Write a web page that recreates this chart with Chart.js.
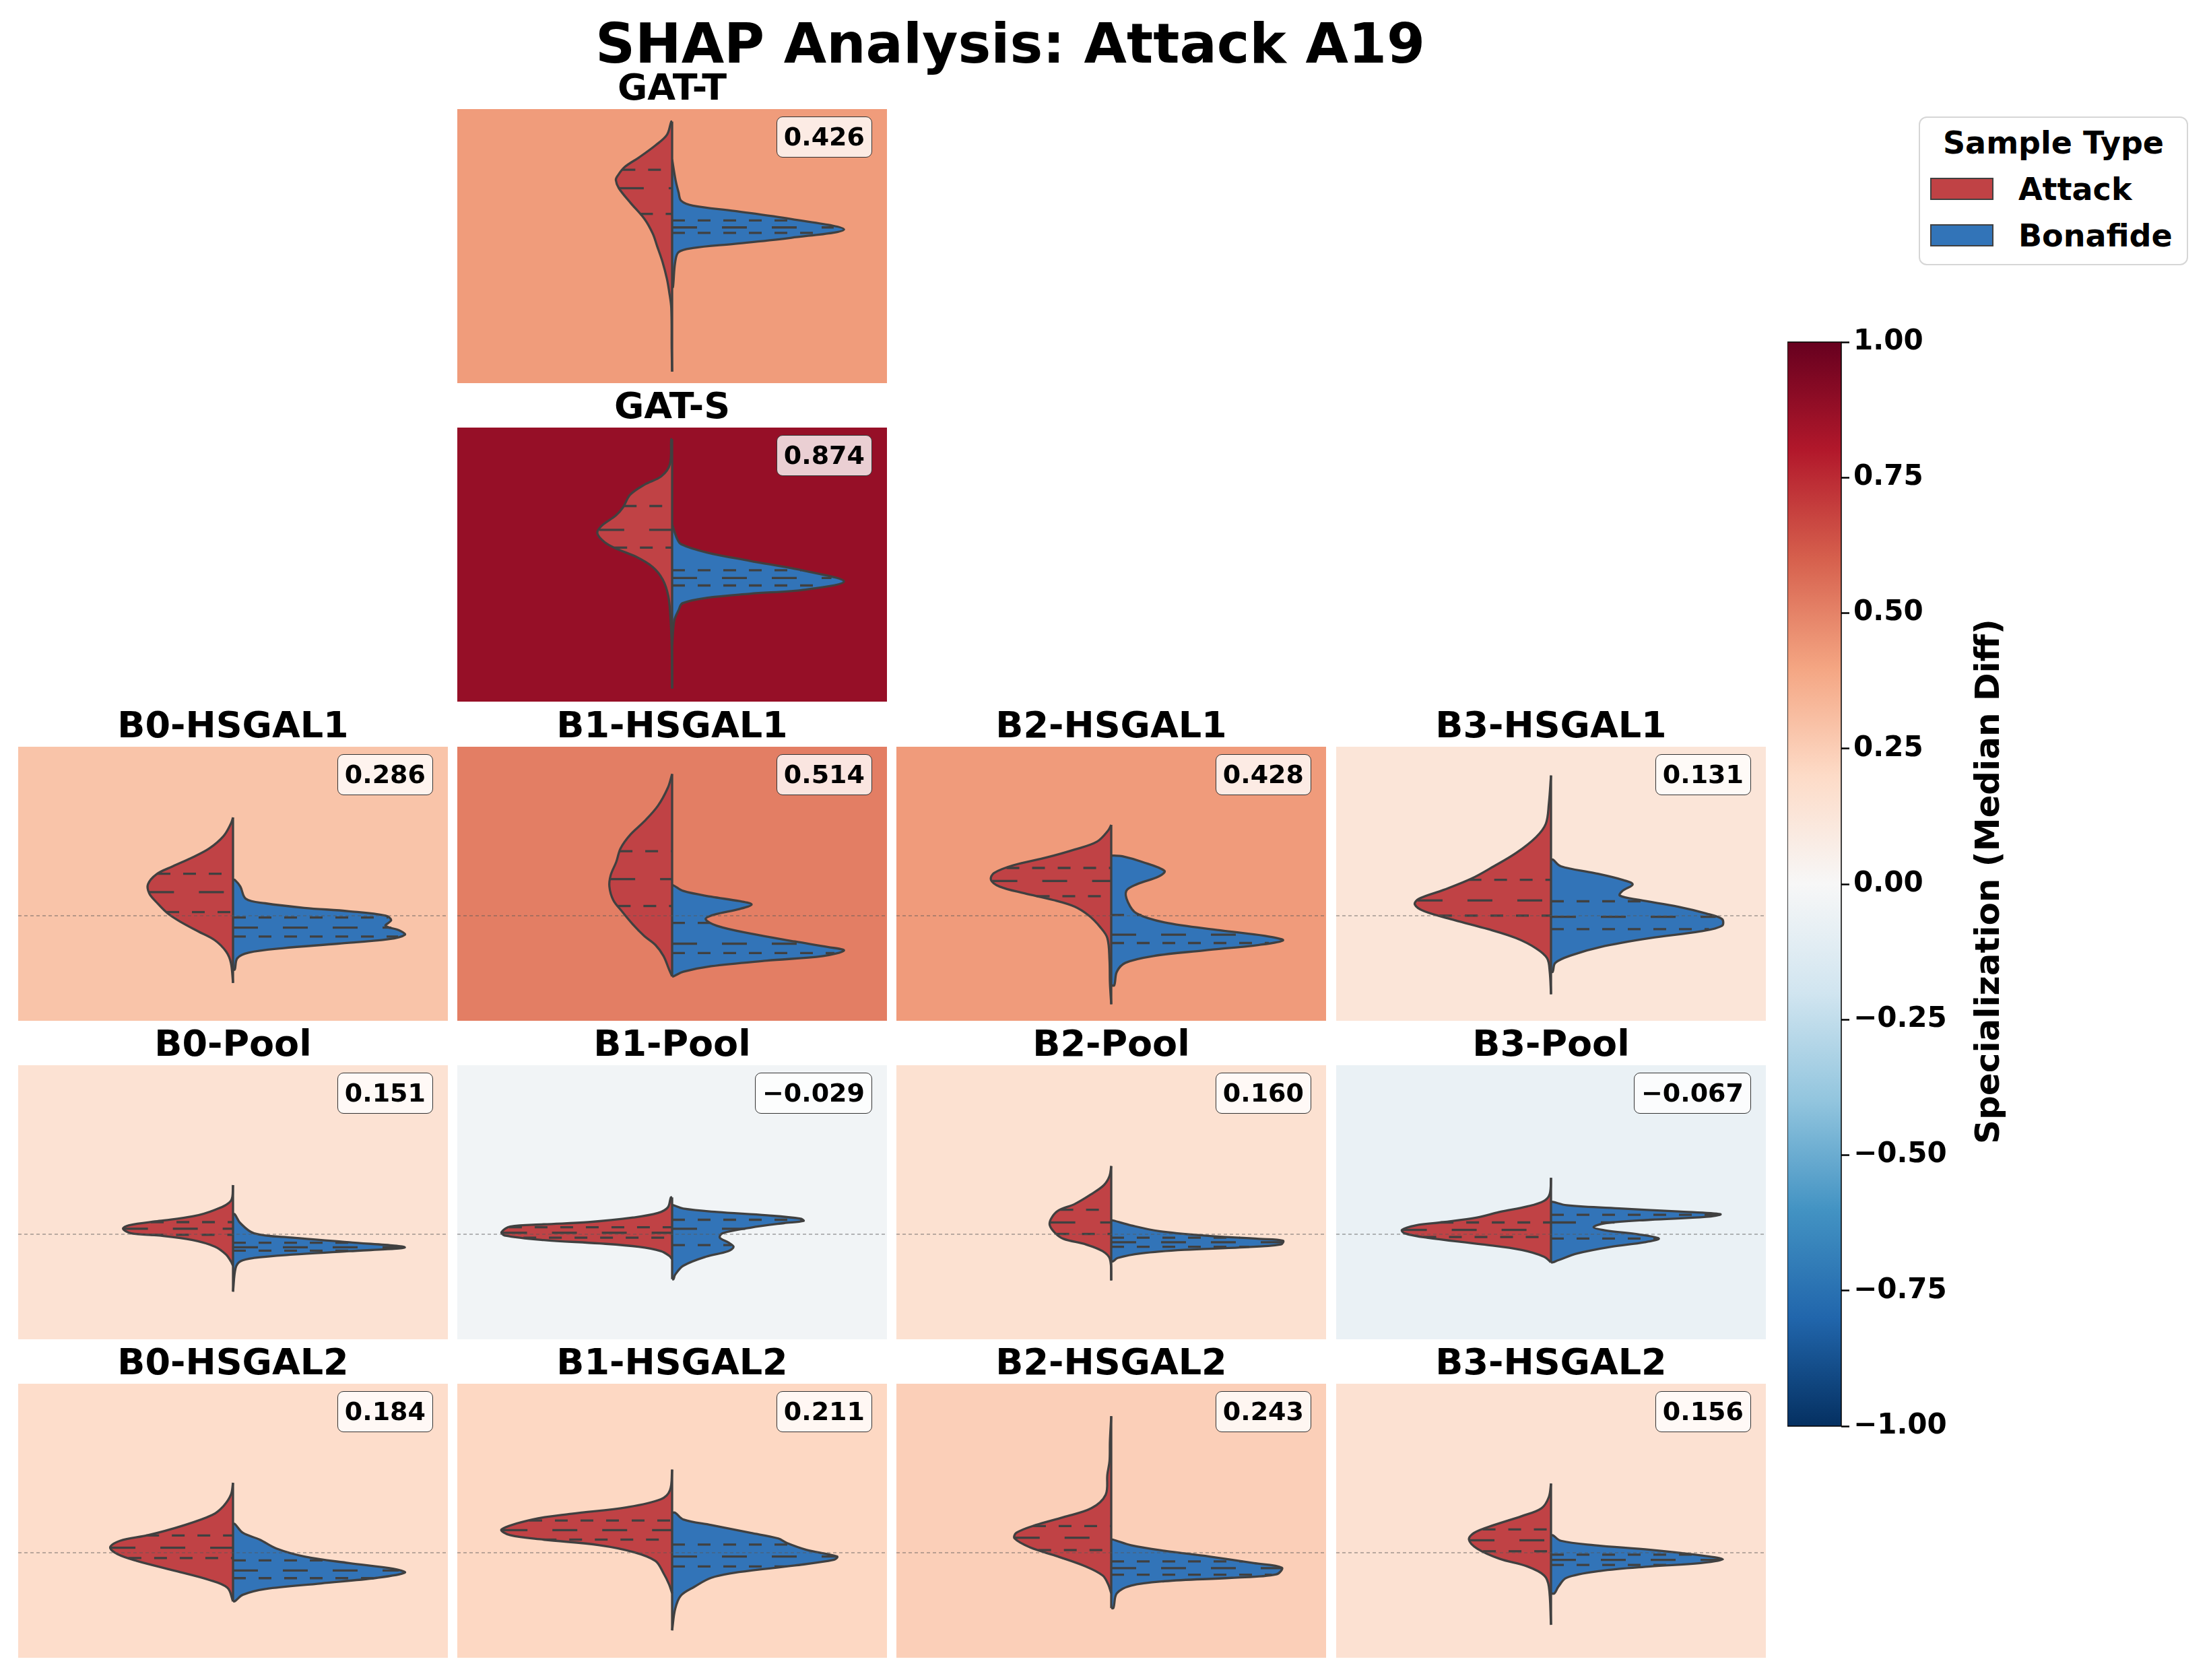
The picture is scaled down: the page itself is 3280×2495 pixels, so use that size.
<!DOCTYPE html>
<html>
<head>
<meta charset="utf-8">
<title>SHAP Analysis: Attack A19</title>
<script src="https://cdn.jsdelivr.net/npm/chart.js@4.4.1/dist/chart.umd.min.js"></script>
<style>
  body { margin: 0; background: #fff; }
  #page { position: relative; width: 3280px; height: 2495px; overflow: hidden;
          font-family: 'DejaVu Sans', sans-serif; font-weight: bold; color: #000; }
  #page canvas { position: absolute; }
  .txt { position: absolute; white-space: nowrap; line-height: 1; }
  .vbox { position: absolute; font-size: 38px; line-height: 1; padding: 10px 10px 11px 10px;
          border: 1.5px solid #333; border-radius: 9px; background: rgba(255,255,255,0.8); white-space: nowrap; }
</style>
</head>
<body>
<div id="page">
  <div class="txt" style="left:0;width:3000px;top:24px;font-size:82px;text-align:center;">SHAP Analysis: Attack A19</div>
</div>
<script>
// ---- data ----
const seriesNames = ['Attack', 'Bonafide'];
const seriesColors = ['#c04245', '#3274b8'];

const panelNames = ['GAT-T', 'GAT-S',
  'B0-HSGAL1', 'B1-HSGAL1', 'B2-HSGAL1', 'B3-HSGAL1',
  'B0-Pool', 'B1-Pool', 'B2-Pool', 'B3-Pool',
  'B0-HSGAL2', 'B1-HSGAL2', 'B2-HSGAL2', 'B3-HSGAL2'];
const specValues = [0.426, 0.874, 0.286, 0.514, 0.428, 0.131, 0.151, -0.029, 0.160, -0.067, 0.184, 0.211, 0.243, 0.156];
const cbarTicks = [-1, -0.75, -0.5, -0.25, 0, 0.25, 0.5, 0.75, 1];

// violin halves: [shap value, half width]; quartiles: [q1, median, q3]
const gatT_atk = [[0.926,0.002],[0.848,0.012],[0.787,0.038],[0.714,0.077],[0.658,0.110],[0.605,0.127],[0.580,0.131],[0.532,0.124],[0.446,0.097],[0.349,0.064],[0.263,0.045],[0.190,0.035],[0.093,0.022],[-0.005,0.012],[-0.078,0.007],[-0.175,0.002],[-0.419,0.001],[-0.553,0]];
const gatT_atkQ = [0.380, 0.532, 0.641];
const gatT_bon = [[0.702,0],[0.580,0.008],[0.507,0.015],[0.458,0.021],[0.429,0.048],[0.397,0.146],[0.349,0.278],[0.288,0.400],[0.239,0.278],[0.203,0.146],[0.178,0.048],[0.154,0.015],[0.093,0.007],[-0.053,0.002]];
const gatT_bonQ = [0.268, 0.300, 0.341];

const gatS_atk = [[0.931,0.002],[0.785,0.005],[0.712,0.025],[0.663,0.064],[0.602,0.098],[0.529,0.114],[0.480,0.131],[0.419,0.164],[0.375,0.174],[0.322,0.157],[0.285,0.131],[0.236,0.084],[0.175,0.045],[0.102,0.022],[0.005,0.009],[-0.117,0.004],[-0.287,0.001],[-0.543,0]];
const gatS_atkQ = [0.290, 0.395, 0.536];
const gatS_bon = [[0.419,0.001],[0.346,0.011],[0.310,0.021],[0.261,0.081],[0.212,0.180],[0.151,0.311],[0.090,0.400],[0.042,0.311],[0.017,0.180],[-0.007,0.080],[-0.039,0.024],[-0.080,0.015],[-0.141,0.005],[-0.287,0]];
const gatS_bonQ = [0.066, 0.110, 0.156];

const b0h1_atk = [[0.582,0],[0.545,0.005],[0.472,0.022],[0.399,0.055],[0.346,0.094],[0.293,0.140],[0.246,0.178],[0.186,0.198],[0.133,0.195],[0.080,0.178],[0.014,0.152],[-0.039,0.120],[-0.092,0.081],[-0.145,0.042],[-0.212,0.016],[-0.278,0.005],[-0.397,0]];
const b0h1_atkQ = [0.022, 0.140, 0.249];
const b0h1_bon = [[0.213,0.004],[0.173,0.017],[0.100,0.030],[0.074,0.075],[0.047,0.166],[0.027,0.270],[0.001,0.355],[-0.026,0.368],[-0.059,0.355],[-0.086,0.387],[-0.112,0.400],[-0.139,0.361],[-0.165,0.244],[-0.192,0.114],[-0.218,0.036],[-0.251,0.010],[-0.318,0.004]];
const b0h1_bonQ = [-0.123, -0.070, -0.010];

const b1h1_atk = [[0.839,0],[0.757,0.010],[0.651,0.033],[0.558,0.065],[0.478,0.098],[0.399,0.120],[0.319,0.130],[0.240,0.143],[0.173,0.146],[0.093,0.137],[0.027,0.117],[-0.052,0.091],[-0.119,0.065],[-0.172,0.039],[-0.238,0.020],[-0.318,0.007],[-0.358,0]];
const b1h1_atkQ = [0.058, 0.217, 0.382];
const b1h1_bon = [[0.180,0.003],[0.147,0.026],[0.113,0.091],[0.087,0.156],[0.067,0.185],[0.040,0.156],[0.007,0.098],[-0.019,0.078],[-0.059,0.104],[-0.105,0.182],[-0.152,0.286],[-0.185,0.364],[-0.205,0.400],[-0.238,0.351],[-0.265,0.221],[-0.298,0.091],[-0.331,0.026],[-0.358,0.003]];
const b1h1_bonQ = [-0.220, -0.165, -0.042];

const b2h1_atk = [[0.538,0],[0.505,0.007],[0.439,0.033],[0.392,0.085],[0.346,0.149],[0.299,0.228],[0.253,0.273],[0.213,0.280],[0.173,0.260],[0.133,0.202],[0.094,0.136],[0.054,0.085],[0.001,0.052],[-0.066,0.026],[-0.132,0.009],[-0.265,0.004],[-0.397,0.003],[-0.523,0]];
const b2h1_atkQ = [0.116, 0.206, 0.283];
const b2h1_bon = [[0.356,0.007],[0.352,0.026],[0.319,0.072],[0.266,0.124],[0.233,0.111],[0.186,0.059],[0.147,0.035],[0.080,0.039],[0.014,0.059],[-0.039,0.124],[-0.086,0.254],[-0.119,0.358],[-0.145,0.400],[-0.172,0.344],[-0.205,0.215],[-0.238,0.098],[-0.278,0.033],[-0.331,0.013],[-0.411,0.007]];
const b2h1_bonQ = [-0.161, -0.112, 0.005];

const b3h1_atk = [[0.830,0],[0.664,0.005],[0.545,0.012],[0.465,0.035],[0.372,0.081],[0.293,0.133],[0.220,0.185],[0.153,0.250],[0.100,0.308],[0.067,0.317],[0.027,0.295],[-0.026,0.224],[-0.079,0.146],[-0.132,0.081],[-0.192,0.035],[-0.251,0.009],[-0.331,0.003],[-0.464,0]];
const b3h1_atkQ = [0.001, 0.091, 0.213];
const b3h1_bon = [[0.333,0.004],[0.293,0.023],[0.253,0.101],[0.213,0.166],[0.186,0.190],[0.147,0.166],[0.120,0.160],[0.094,0.205],[0.054,0.296],[0.014,0.361],[-0.019,0.398],[-0.059,0.398],[-0.092,0.348],[-0.132,0.231],[-0.185,0.114],[-0.232,0.049],[-0.278,0.010],[-0.331,0.004]];
const b3h1_bonQ = [-0.079, -0.006, 0.086];

const b0p_atk = [[0.291,0],[0.198,0.005],[0.145,0.042],[0.106,0.094],[0.079,0.172],[0.053,0.243],[0.033,0.256],[0.006,0.237],[-0.007,0.172],[-0.034,0.094],[-0.073,0.042],[-0.120,0.016],[-0.160,0.005],[-0.186,0]];
const b0p_atkQ = [-0.003, 0.033, 0.072];
const b0p_bon = [[0.119,0.004],[0.066,0.017],[0.006,0.049],[-0.020,0.140],[-0.047,0.270],[-0.077,0.400],[-0.100,0.270],[-0.120,0.140],[-0.140,0.049],[-0.160,0.017],[-0.200,0.006],[-0.339,0]];
const b0p_bonQ = [-0.097, -0.077, -0.050];

const b1p_atk = [[0.218,0.003],[0.159,0.010],[0.126,0.033],[0.099,0.091],[0.072,0.195],[0.059,0.299],[0.046,0.377],[0.013,0.397],[-0.007,0.390],[-0.034,0.299],[-0.054,0.169],[-0.074,0.078],[-0.100,0.026],[-0.127,0.007],[-0.147,0]];
const b1p_atkQ = [-0.020, 0.009, 0.042];
const b1p_bon = [[0.172,0.003],[0.152,0.026],[0.132,0.104],[0.112,0.221],[0.092,0.299],[0.079,0.306],[0.066,0.260],[0.039,0.182],[0.006,0.117],[-0.020,0.111],[-0.047,0.130],[-0.074,0.143],[-0.100,0.130],[-0.133,0.078],[-0.186,0.026],[-0.239,0.007],[-0.266,0.003]];
const b1p_bonQ = [-0.064, 0.033, 0.086];

const b2p_atk = [[0.404,0],[0.344,0.004],[0.291,0.017],[0.238,0.046],[0.179,0.085],[0.139,0.124],[0.092,0.140],[0.053,0.143],[0.006,0.130],[-0.027,0.111],[-0.060,0.059],[-0.100,0.020],[-0.147,0.003],[-0.273,0]];
const b2p_atkQ = [0.002, 0.070, 0.145];
const b2p_bon = [[0.082,0.004],[0.053,0.046],[0.019,0.111],[-0.007,0.215],[-0.027,0.345],[-0.038,0.400],[-0.060,0.395],[-0.078,0.300],[-0.092,0.170],[-0.113,0.070],[-0.140,0.015],[-0.160,0.004]];
const b2p_bonQ = [-0.074, -0.047, -0.020];

const b3p_atk = [[0.334,0],[0.238,0.003],[0.198,0.016],[0.165,0.055],[0.132,0.120],[0.099,0.172],[0.072,0.250],[0.053,0.315],[0.026,0.347],[0.006,0.341],[-0.020,0.289],[-0.060,0.159],[-0.093,0.068],[-0.133,0.016],[-0.166,0]];
const b3p_atkQ = [-0.016, 0.026, 0.070];
const b3p_bon = [[0.192,0.004],[0.172,0.036],[0.152,0.166],[0.135,0.296],[0.119,0.394],[0.103,0.361],[0.086,0.231],[0.066,0.127],[0.042,0.099],[0.023,0.127],[-0.001,0.205],[-0.025,0.251],[-0.047,0.218],[-0.074,0.140],[-0.113,0.062],[-0.153,0.017],[-0.166,0.004]];
const b3p_bonQ = [-0.025, 0.070, 0.115];

const b0h2_atk = [[0.414,0],[0.343,0.005],[0.277,0.022],[0.224,0.048],[0.158,0.120],[0.104,0.198],[0.071,0.263],[0.032,0.286],[-0.008,0.269],[-0.048,0.224],[-0.108,0.133],[-0.161,0.055],[-0.207,0.013],[-0.287,0]];
const b0h2_atkQ = [-0.031, 0.030, 0.102];
const b0h2_bon = [[0.171,0.004],[0.118,0.023],[0.078,0.062],[0.025,0.101],[-0.022,0.166],[-0.061,0.270],[-0.095,0.374],[-0.117,0.400],[-0.148,0.335],[-0.181,0.205],[-0.214,0.075],[-0.248,0.023],[-0.287,0.004]];
const b0h2_bonQ = [-0.150, -0.105, -0.045];

const b1h2_atk = [[0.492,0],[0.370,0.005],[0.317,0.026],[0.270,0.104],[0.231,0.234],[0.197,0.325],[0.138,0.397],[0.104,0.377],[0.078,0.299],[0.045,0.169],[0.005,0.091],[-0.048,0.039],[-0.121,0.020],[-0.187,0.007],[-0.240,0]];
const b1h2_atkQ = [0.078, 0.134, 0.191];
const b1h2_bon = [[0.237,0.007],[0.197,0.026],[0.164,0.091],[0.118,0.182],[0.085,0.247],[0.058,0.267],[0.018,0.312],[-0.022,0.384],[-0.041,0.377],[-0.075,0.286],[-0.114,0.156],[-0.148,0.091],[-0.201,0.052],[-0.254,0.020],[-0.333,0.007],[-0.459,0]];
const b1h2_bonQ = [-0.081, -0.022, 0.049];

const b2h2_atk = [[0.808,0],[0.662,0.003],[0.542,0.004],[0.463,0.009],[0.343,0.013],[0.264,0.046],[0.211,0.111],[0.164,0.176],[0.118,0.221],[0.085,0.225],[0.032,0.189],[-0.022,0.124],[-0.081,0.059],[-0.134,0.020],[-0.187,0.007],[-0.240,0]];
const b2h2_atkQ = [0.016, 0.089, 0.158];
const b2h2_bon = [[0.078,0.004],[0.045,0.046],[0.012,0.124],[-0.022,0.228],[-0.061,0.332],[-0.088,0.397],[-0.128,0.384],[-0.148,0.280],[-0.168,0.124],[-0.194,0.046],[-0.240,0.013],[-0.327,0.005]];
const b2h2_bonQ = [-0.130, -0.091, -0.051];

const b3h2_atk = [[0.410,0],[0.330,0.005],[0.264,0.022],[0.217,0.068],[0.164,0.133],[0.118,0.179],[0.078,0.191],[0.025,0.172],[-0.035,0.120],[-0.081,0.055],[-0.134,0.016],[-0.201,0.005],[-0.426,0]];
const b3h2_atkQ = [0.009, 0.074, 0.138];
const b3h2_bon = [[0.104,0.004],[0.071,0.023],[0.045,0.101],[0.018,0.231],[-0.015,0.348],[-0.039,0.400],[-0.061,0.348],[-0.081,0.231],[-0.108,0.114],[-0.148,0.036],[-0.201,0.017],[-0.240,0.008]];
const b3h2_bonQ = [-0.072, -0.042, -0.011];

const attackProfiles = [gatT_atk, gatS_atk, b0h1_atk, b1h1_atk, b2h1_atk, b3h1_atk, b0p_atk, b1p_atk, b2p_atk, b3p_atk, b0h2_atk, b1h2_atk, b2h2_atk, b3h2_atk];
const attackQuarts = [gatT_atkQ, gatS_atkQ, b0h1_atkQ, b1h1_atkQ, b2h1_atkQ, b3h1_atkQ, b0p_atkQ, b1p_atkQ, b2p_atkQ, b3p_atkQ, b0h2_atkQ, b1h2_atkQ, b2h2_atkQ, b3h2_atkQ];
const bonaProfiles = [gatT_bon, gatS_bon, b0h1_bon, b1h1_bon, b2h1_bon, b3h1_bon, b0p_bon, b1p_bon, b2p_bon, b3p_bon, b0h2_bon, b1h2_bon, b2h2_bon, b3h2_bon];
const bonaQuarts = [gatT_bonQ, gatS_bonQ, b0h1_bonQ, b1h1_bonQ, b2h1_bonQ, b3h1_bonQ, b0p_bonQ, b1p_bonQ, b2p_bonQ, b3p_bonQ, b0h2_bonQ, b1h2_bonQ, b2h2_bonQ, b3h2_bonQ];

// ---- layout ----
const colLeft = [27, 679, 1331, 1984];
const rowTop = [162, 635, 1109, 1582, 2055];
const PW = 638, PH = 407;
const slots = [[0,1],[1,1],[2,0],[2,1],[2,2],[2,3],[3,0],[3,1],[3,2],[3,3],[4,0],[4,1],[4,2],[4,3]];
const Y_MIN = -0.621, Y_MAX = 1.0;
const EDGE = '#404040';
const FONT = "'DejaVu Sans', sans-serif";

const page = document.getElementById('page');

// RdBu_r colormap
const rdbu = ['#67001f','#b2182b','#d6604d','#f4a582','#fddbc7','#f7f7f7','#d1e5f0','#92c5de','#4393c3','#2166ac','#053061'];
const hex2rgb = h => [1, 3, 5].map(i => parseInt(h.substr(i, 2), 16));
function rdbuR(v) {
  const t = Math.max(0, Math.min(1, 1 - (v + 1) / 2)) * 10;
  const i = Math.min(9, Math.floor(t)), f = t - i;
  const a = hex2rgb(rdbu[i]), b = hex2rgb(rdbu[i + 1]);
  return 'rgb(' + a.map((c, k) => Math.round(c + (b[k] - c) * f)).join(',') + ')';
}

const fmt = v => (v < 0 ? '\u2212' : '') + Math.abs(v).toFixed(3);

const panelBg = {
  id: 'panelBg',
  beforeDraw(chart, args, opts) {
    const {ctx, chartArea: a} = chart;
    ctx.save();
    ctx.fillStyle = opts.color;
    ctx.fillRect(a.left, a.top, a.right - a.left, a.bottom - a.top);
    ctx.restore();
  }
};

function widthAt(profile, y) {
  for (let i = 0; i < profile.length - 1; i++) {
    const [y0, w0] = profile[i], [y1, w1] = profile[i + 1];
    if (y <= y0 && y >= y1) {
      const f = y0 === y1 ? 0 : (y0 - y) / (y0 - y1);
      return w0 + f * (w1 - w0);
    }
  }
  return 0;
}

function halfShape(profile, side, color) {
  const pts = [{x: 0, y: profile[0][0]}]
    .concat(profile.map(p => ({x: side * p[1], y: p[0]})))
    .concat([{x: 0, y: profile[profile.length - 1][0]}]);
  return {data: pts, fill: 'shape', backgroundColor: color, borderColor: EDGE, borderWidth: 3.3,
          tension: 0.35, pointRadius: 0, borderJoinStyle: 'round'};
}

function quartLines(profile, q, side) {
  return q.map((v, k) => {
    const w = widthAt(profile, v);
    const a = {x: 0, y: v}, b = {x: side * w, y: v};
    return {data: side < 0 ? [b, a] : [a, b], borderColor: EDGE, borderWidth: 3.3,
            borderDash: k === 1 ? [37, 37] : [19, 19], borderCapStyle: 'butt',
            pointRadius: 0, fill: false, tension: 0};
  });
}

function makeCanvas(left, top, w, h) {
  const c = document.createElement('canvas');
  c.width = w; c.height = h;
  c.style.left = left + 'px'; c.style.top = top + 'px';
  page.appendChild(c);
  return c;
}

panelNames.forEach((name, i) => {
  const [r, c] = slots[i];
  const left = colLeft[c], top = rowTop[r];
  const atk = attackProfiles[i], bon = bonaProfiles[i];

  const spineTop = Math.max(atk[0][0], bon[0][0]);
  const spineBot = Math.min(atk[atk.length - 1][0], bon[bon.length - 1][0]);

  const datasets = [];
  if (r >= 2) {
    datasets.push({data: [{x: -0.5, y: 0}, {x: 0.5, y: 0}], borderColor: 'rgba(90,90,90,0.55)',
                   borderWidth: 1.5, borderDash: [5, 4], pointRadius: 0, fill: false});
  }
  datasets.push(...quartLines(atk, attackQuarts[i], -1));
  datasets.push(...quartLines(bon, bonaQuarts[i], 1));
  datasets.push({data: [{x: 0, y: spineTop}, {x: 0, y: spineBot}], borderColor: EDGE, borderWidth: 3.3,
                 pointRadius: 0, fill: false});
  datasets.push(halfShape(atk, -1, seriesColors[0]));
  datasets.push(halfShape(bon, 1, seriesColors[1]));

  new Chart(makeCanvas(left, top, PW, PH), {
    type: 'line',
    data: {datasets},
    options: {
      responsive: false, animation: false, devicePixelRatio: 1,
      layout: {padding: 0},
      scales: {
        x: {type: 'linear', min: -0.5, max: 0.5, display: false},
        y: {type: 'linear', min: Y_MIN, max: Y_MAX, display: false}
      },
      plugins: {legend: {display: false}, tooltip: {enabled: false}, panelBg: {color: rdbuR(specValues[i])}},
      elements: {point: {radius: 0}}
    },
    plugins: [panelBg]
  });

  // panel title
  const t = document.createElement('div');
  t.className = 'txt';
  t.style.cssText = `left:${left}px;width:${PW}px;top:${top - 59}px;font-size:54px;text-align:center;`;
  t.textContent = name;
  page.appendChild(t);

  // value box
  const b = document.createElement('div');
  b.className = 'vbox';
  b.style.right = (3280 - (left + PW - 22)) + 'px';
  b.style.top = (top + 11) + 'px';
  b.textContent = fmt(specValues[i]);
  page.appendChild(b);
});

// ---- colorbar ----
const cbar = {
  id: 'cbar',
  beforeDraw(chart) {
    const {ctx, chartArea: a} = chart;
    const g = ctx.createLinearGradient(0, a.bottom, 0, a.top);
    rdbu.slice().reverse().forEach((c, k) => g.addColorStop(k / 10, c));
    ctx.save();
    ctx.fillStyle = g;
    ctx.fillRect(a.left, a.top, a.right - a.left, a.bottom - a.top);
    ctx.strokeStyle = '#000';
    ctx.lineWidth = 1.5;
    ctx.strokeRect(a.left, a.top, a.right - a.left, a.bottom - a.top);
    ctx.restore();
  }
};
new Chart(makeCanvas(2654, 468, 250, 1690), {
  type: 'line',
  data: {datasets: []},
  options: {
    responsive: false, animation: false, devicePixelRatio: 1,
    layout: {padding: {top: 40, bottom: 40, left: 0, right: 0}},
    scales: {
      x: {type: 'linear', min: 0, max: 1, display: false},
      y: {
        type: 'linear', position: 'right', min: -1, max: 1,
        afterFit(s) { s.width = 170; },
        afterBuildTicks(s) { s.ticks = cbarTicks.map(v => ({value: v})); },
        grid: {drawOnChartArea: false, drawTicks: true, tickLength: 12, tickWidth: 2.5, tickColor: '#000'},
        border: {display: false},
        ticks: {
          padding: 6, color: '#000',
          font: {family: FONT, size: 42, weight: 'bold'},
          callback: v => (v < 0 ? '\u2212' : '') + Math.abs(v).toFixed(2)
        }
      }
    },
    plugins: {legend: {display: false}, tooltip: {enabled: false}}
  },
  plugins: [cbar]
});

const cl = document.createElement('div');
cl.className = 'txt';
cl.style.cssText = 'left:2951px;top:1309px;font-size:50px;transform:translate(-50%,-50%) rotate(-90deg);';
cl.textContent = 'Specialization (Median Diff)';
page.appendChild(cl);

// ---- legend ----
const lg = document.createElement('div');
lg.style.cssText = 'position:absolute;left:2849px;top:173px;width:396px;height:217px;border:2px solid #d6d6d6;border-radius:12px;';
page.appendChild(lg);
const lt = document.createElement('div');
lt.className = 'txt';
lt.style.cssText = 'left:2849px;width:400px;top:189px;font-size:46px;text-align:center;';
lt.textContent = 'Sample Type';
page.appendChild(lt);
seriesNames.forEach((n, k) => {
  const p = document.createElement('div');
  p.style.cssText = `position:absolute;left:2866px;top:${264 + k * 69}px;width:90px;height:29px;background:${seriesColors[k]};border:2px solid ${EDGE};`;
  page.appendChild(p);
  const s = document.createElement('div');
  s.className = 'txt';
  s.style.cssText = `left:2997px;top:${258 + k * 69}px;font-size:46px;`;
  s.textContent = n;
  page.appendChild(s);
});
</script>
</body>
</html>
